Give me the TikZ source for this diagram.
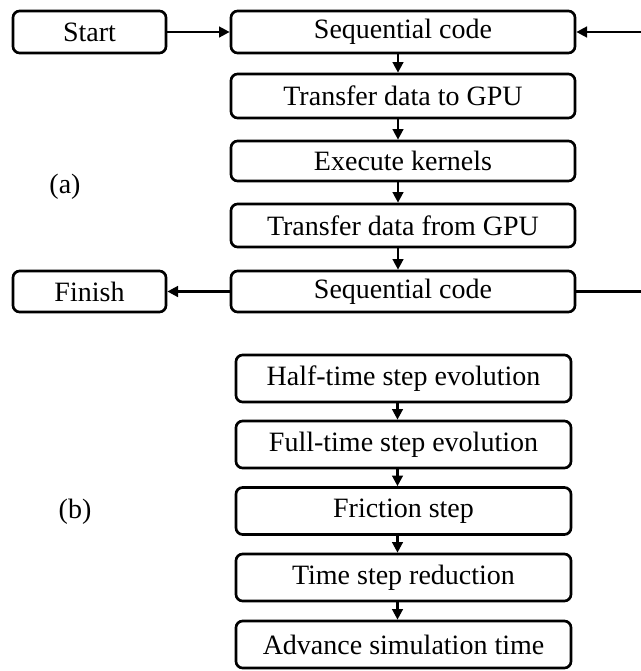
\documentclass[tikz,border=0pt]{standalone}
\usepackage{fontspec}
\setmainfont{Liberation Serif}
\usetikzlibrary{arrows.meta}
\begin{document}
\begin{tikzpicture}[x=0.75pt, y=-0.75pt,
  block/.style={draw, line width=2pt, rounded corners=5pt, inner sep=0pt,
    font=\fontsize{21}{25}\selectfont},
  wide/.style={block, minimum width=344*0.75pt},
  narrow/.style={block, minimum width=153*0.75pt},
  kernel/.style={block, minimum width=335*0.75pt, minimum height=47*0.75pt},
  link/.style={-{Triangle[length=8pt, width=8pt]}, line width=1.8pt}]
\useasboundingbox (0,0) rectangle (640,671);
% (a) host / device flow
\node (start) [narrow, minimum height=42*0.75pt] at (89.5,32) {Start};
\node (seq1) [wide, minimum height=42*0.75pt] at (403,32) {Sequential code};
\node (todev) [wide, minimum height=44*0.75pt] at (403,96) {Transfer data to GPU};
\node (exec) [wide, minimum height=40*0.75pt] at (403,161) {Execute kernels};
\node (fromdev) [wide, minimum height=43*0.75pt] at (403,225.5) {Transfer data from GPU};
\node (seq2) [wide, minimum height=41*0.75pt] at (403,291.5) {Sequential code};
\node (finish) [narrow, minimum height=41*0.75pt] at (89.5,291.5) {Finish};
\node (lbla) [font=\fontsize{21}{25}\selectfont] at (65,187) {(a)};
\coordinate (loop) at (646,0);
\draw[link] (start) -- (seq1);
\draw[link] ([xshift=-3.75pt]seq1.south) -- ([xshift=-3.75pt]todev.north);
\draw[link] ([xshift=-3.75pt]todev.south) -- ([xshift=-3.75pt]exec.north);
\draw[link] ([xshift=-3.75pt]exec.south) -- ([xshift=-3.75pt]fromdev.north);
\draw[link] ([xshift=-3.75pt]fromdev.south) -- ([xshift=-3.75pt]seq2.north);
\draw[link] (seq2) -- (finish);
\draw[link] (seq2.east) -- (seq2.east -| loop) -- (seq1.east -| loop) -- (seq1.east);
% (b) kernel steps
\node (half) [kernel] at (403.5,378.5) {Half-time step evolution};
\node (full) [kernel] at (403.5,444.5) {Full-time step evolution};
\node (fric) [kernel] at (403.5,511) {Friction step};
\node (reduce) [kernel] at (403.5,577.5) {Time step reduction};
\node (advance) [kernel] at (403.5,644.5) {Advance simulation time};
\node (lblb) [font=\fontsize{21}{25}\selectfont] at (75,512) {(b)};
\draw[link] ([xshift=-4.5pt]half.south) -- ([xshift=-4.5pt]full.north);
\draw[link] ([xshift=-4.5pt]full.south) -- ([xshift=-4.5pt]fric.north);
\draw[link] ([xshift=-4.5pt]fric.south) -- ([xshift=-4.5pt]reduce.north);
\draw[link] ([xshift=-4.5pt]reduce.south) -- ([xshift=-4.5pt]advance.north);
\end{tikzpicture}
\end{document}
